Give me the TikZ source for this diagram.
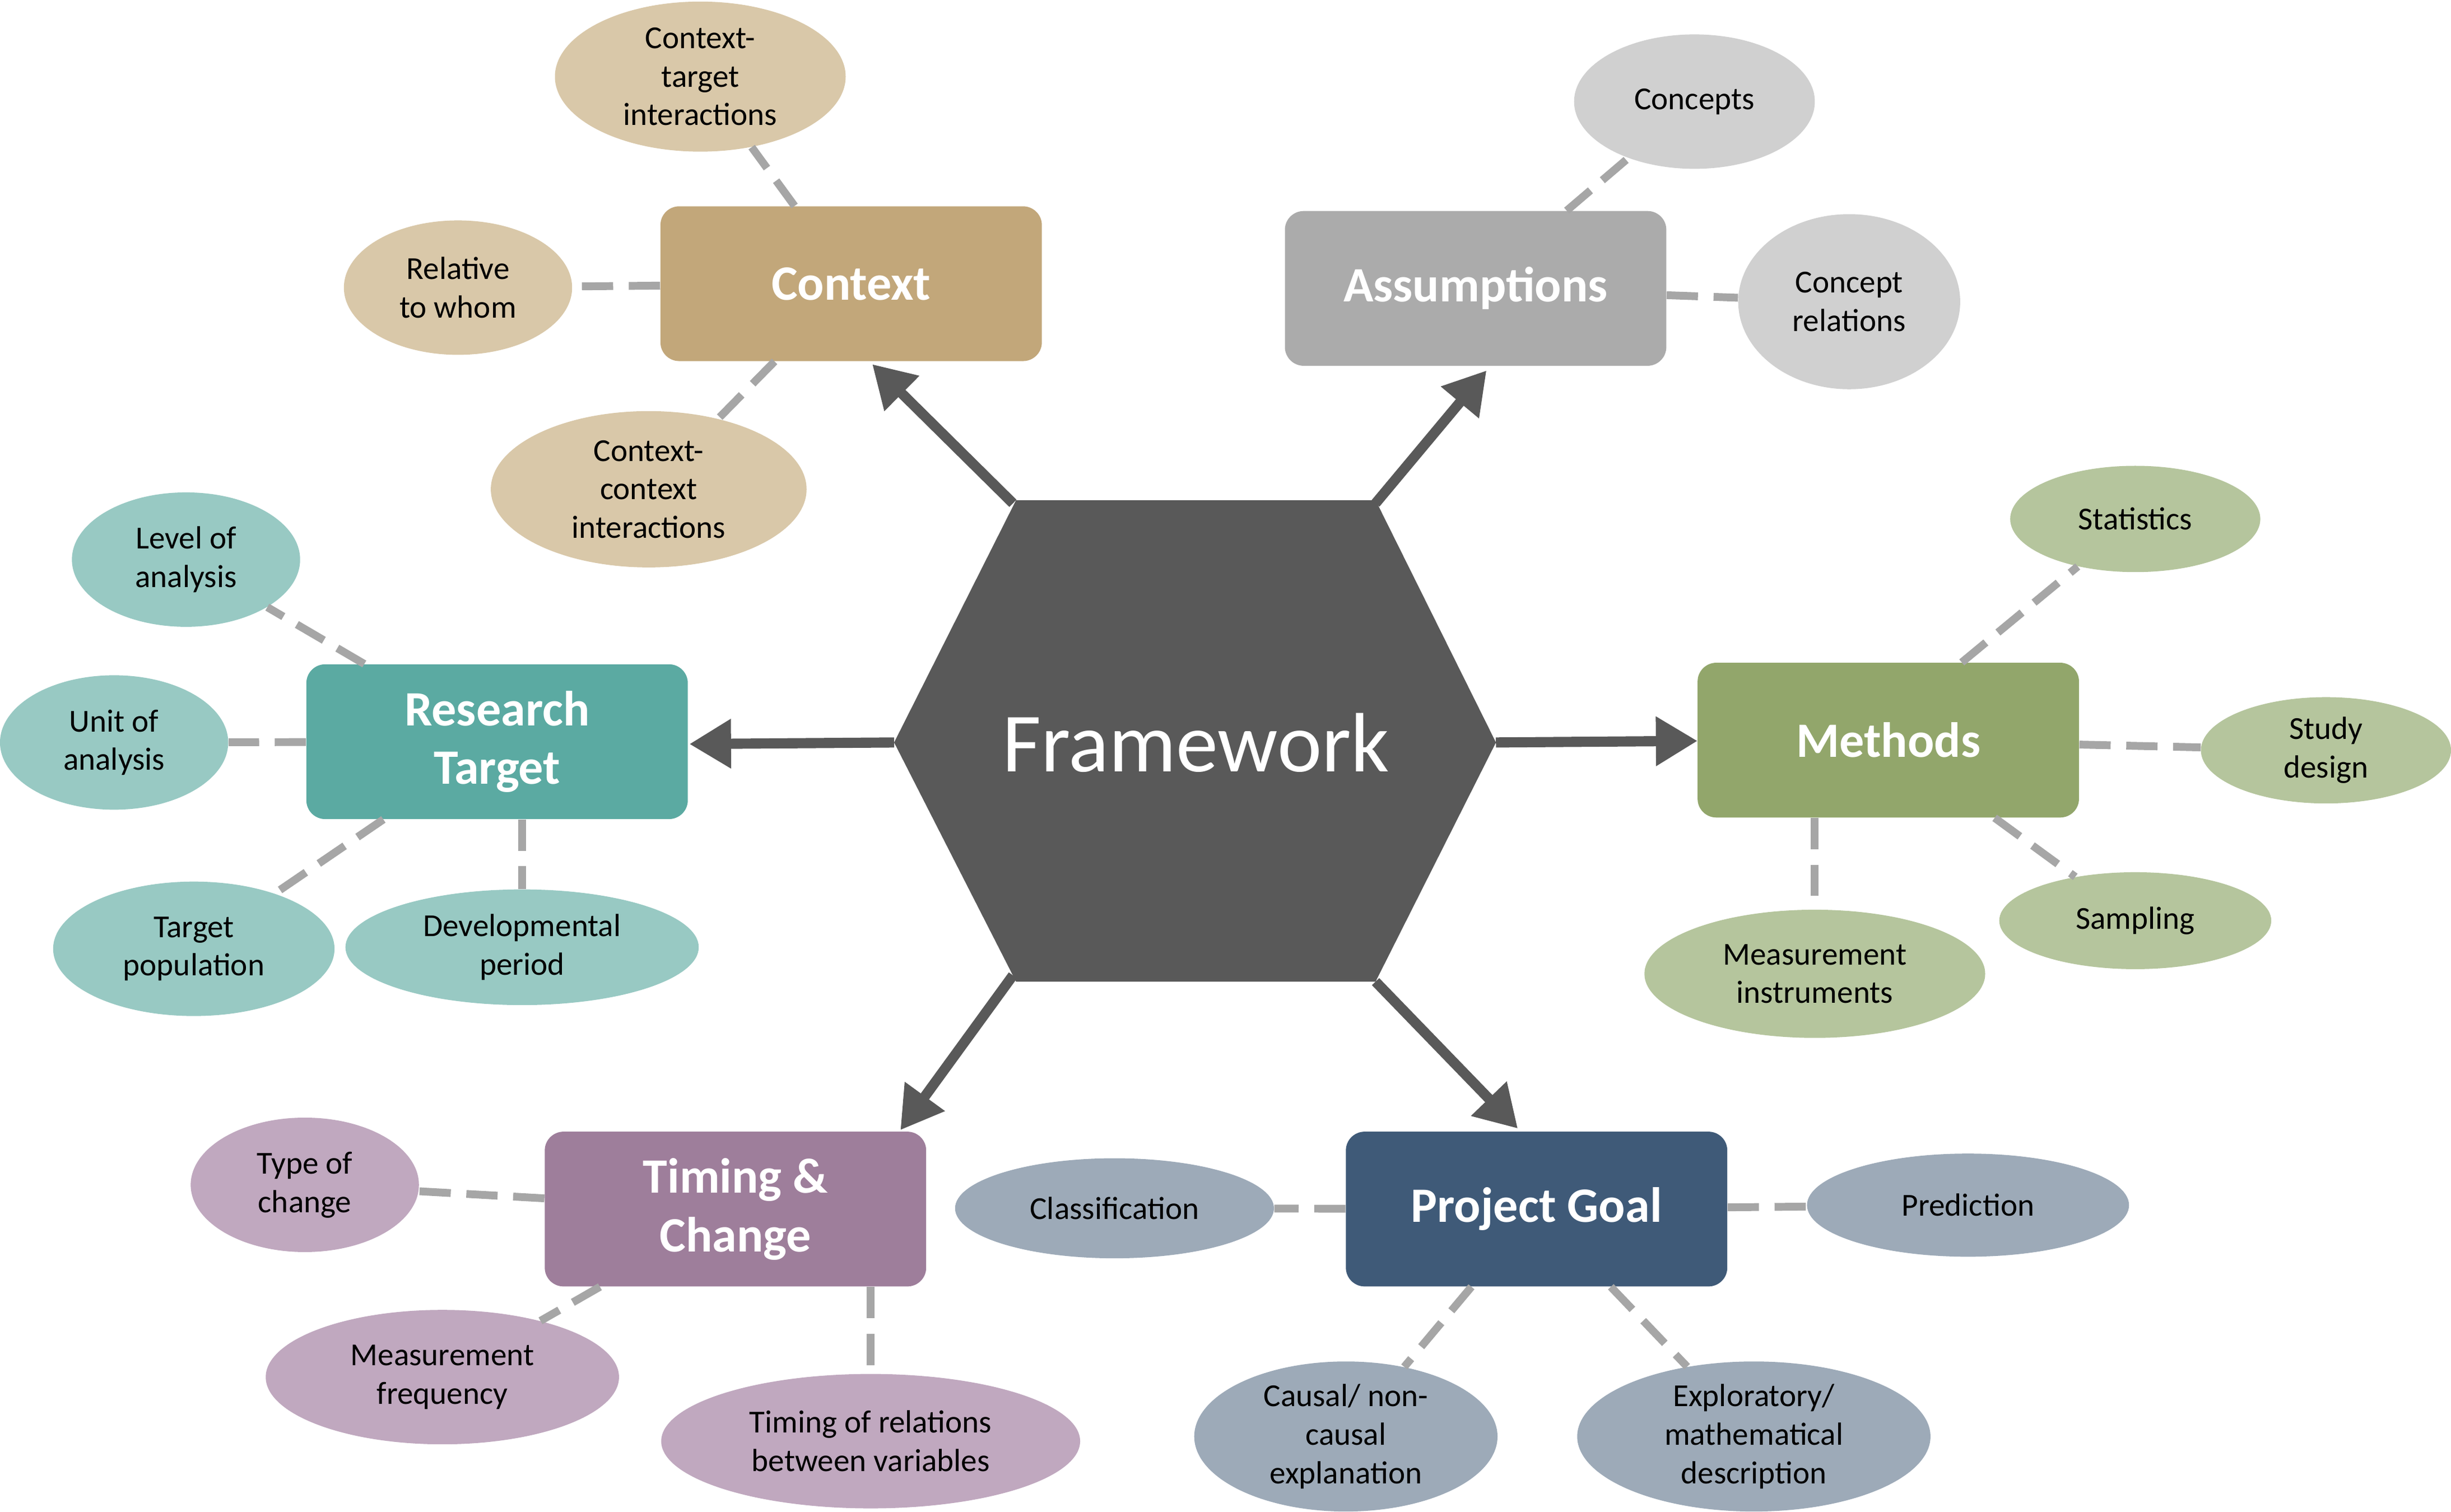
\documentclass[tikz,border=0pt]{standalone}
\usepackage{fontspec}
\setmainfont{Carlito}
\usetikzlibrary{shapes.geometric,arrows.meta,calc}
\definecolor{hex}{HTML}{595959}
\definecolor{cCtx}{HTML}{C2A77A}\definecolor{eCtx}{HTML}{D9C8A9}
\definecolor{cAs}{HTML}{ABABAB}\definecolor{eAs}{HTML}{D0D0D0}
\definecolor{cRT}{HTML}{5BAAA2}\definecolor{eRT}{HTML}{98C9C3}
\definecolor{cMe}{HTML}{92A66B}\definecolor{eMe}{HTML}{B5C59D}
\definecolor{cTi}{HTML}{9E7E9B}\definecolor{eTi}{HTML}{C0A8BF}
\definecolor{cPG}{HTML}{3F5A78}\definecolor{ePG}{HTML}{9DAAB8}
\definecolor{dash}{HTML}{A6A6A6}
\begin{document}
\begin{tikzpicture}[x=0.03cm,y=-0.03cm,
 box/.style={rounded corners=12*0.3mm,minimum width=244*0.3mm,minimum height=99*0.3mm,inner sep=0,
   text=white,font=\fontsize{27}{32}\selectfont\bfseries,align=center},
 el/.style={ellipse,inner sep=0,align=center,font=\fontsize{17.5}{21}\selectfont},
 dl/.style={draw=dash,line width=5*0.3mm,dash pattern=on 6mm off 3mm},
 arr/.style={draw=hex,line width=6.5*0.3mm,-{Triangle[length=8mm,width=9mm]}}]
\useasboundingbox (0,0) rectangle (1568,967);
% hexagon
\fill[hex] (650,320) -- (880,320) -- (957,475) -- (880,628) -- (650,628) -- (572,475) -- cycle;
\node[text=white,font=\fontsize{46}{50}\selectfont] (fw) at (765,475) {Framework};
\coordinate (h1) at (648,322); \coordinate (h2) at (880,322); \coordinate (h3) at (572,475);
\coordinate (h4) at (957,475); \coordinate (h5) at (648,624); \coordinate (h6) at (880,628);
% boxes
\node[box,fill=cCtx] (ctx) at (544.5,181.5) {Context};
\node[box,fill=cAs] (as) at (944,184.5) {Assumptions};
\node[box,fill=cRT] (rt) at (318,474.5) {Research\\Target};
\node[box,fill=cMe] (me) at (1208,473.5) {Methods};
\node[box,fill=cTi] (ti) at (470.5,773.5) {Timing \&\\Change};
\node[box,fill=cPG] (pg) at (983,773.5) {Project Goal};
% arrows
\coordinate (t1) at (558,233); \coordinate (t2) at (951,237); \coordinate (t3) at (441,476);
\coordinate (t4) at (1086,474); \coordinate (t5) at (576,723); \coordinate (t6) at (971,722);
\draw[arr] (h1) -- (t1); \draw[arr] (h2) -- (t2); \draw[arr] (h3) -- (t3);
\draw[arr] (h4) -- (t4); \draw[arr] (h5) -- (t5); \draw[arr] (h6) -- (t6);
% ellipses
\newcommand{\el}[6]{\node[el,fill=#1,minimum width=#4*0.6mm,minimum height=#5*0.6mm] (#6) at (#2,#3)}
\el{eCtx}{448}{49}{93}{48}{cti} {Context-\\target\\interactions};
\el{eCtx}{293}{184}{73}{43}{rtw} {Relative\\to whom};
\el{eCtx}{415}{313}{101}{50}{cci} {Context-\\context\\interactions};
\el{eAs}{1084}{65}{77}{43}{con} {Concepts};
\el{eAs}{1183}{193}{71}{56}{cr} {Concept\\relations};
\el{eRT}{119}{358}{73}{43}{loa} {Level of\\analysis};
\el{eRT}{73}{475}{73}{43}{uoa} {Unit of\\analysis};
\el{eRT}{124}{607}{90}{43}{tp} {Target\\population};
\el{eRT}{334}{606}{113}{37}{dp} {Developmental\\period};
\el{eMe}{1366}{332}{80}{34}{st} {Statistics};
\el{eMe}{1488}{480}{80}{34}{sd} {Study\\design};
\el{eMe}{1366}{589}{87}{31}{sa} {Sampling};
\el{eMe}{1161}{623}{109}{41}{mi} {Measurement\\instruments};
\el{eTi}{195}{758}{73}{43}{toc} {Type of\\change};
\el{eTi}{283}{881}{113}{43}{mf} {Measurement\\frequency};
\el{eTi}{557}{922}{134}{43}{tr} {Timing of relations\\between variables};
\el{ePG}{713}{773}{102}{32}{cl} {Classification};
\el{ePG}{1259}{771}{103}{33}{pr} {Prediction};
\el{ePG}{861}{919}{97}{48}{ca} {Causal/ non-\\causal\\explanation};
\el{ePG}{1122}{919}{113}{48}{ex} {Exploratory/\\mathematical\\description};
% dashed connectors
\foreach \a/\b in {ctx/cti,ctx/rtw,ctx/cci,as/con,as/cr,rt/loa,rt/uoa,rt/tp,me/sd,me/sa,ti/toc,ti/mf,pg/cl,pg/pr,pg/ca,pg/ex}
  \draw[dl] (\a) -- (\b);
\draw[dl] (rt.south -| dp) -- (dp);
\draw[dl] (me.south -| mi) -- (mi);
\draw[dl] (ti.south -| tr) -- (tr);
\draw[dl] ($(me.north)+(47,0)$) -- (st);
\end{tikzpicture}
\end{document}
